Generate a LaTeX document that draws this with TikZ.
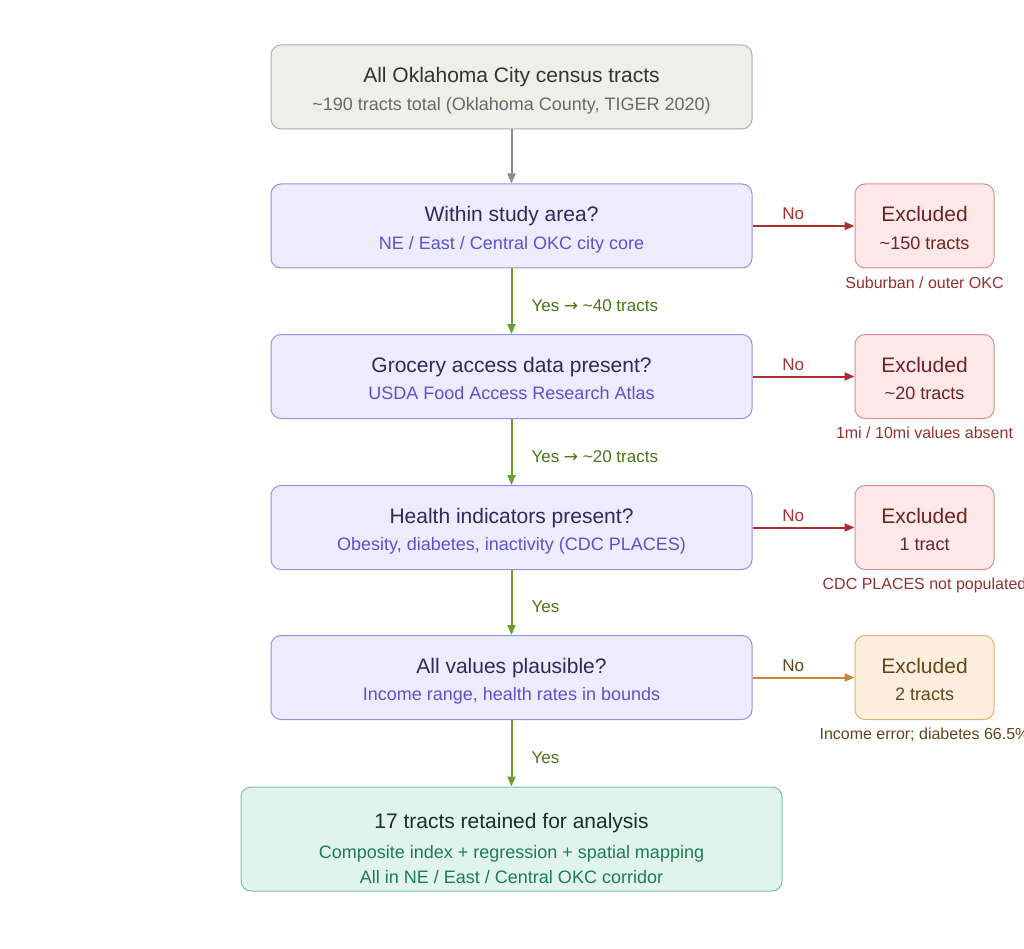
\documentclass[tikz,border=0pt]{standalone}
\usepackage{fontspec}
\setmainfont{Liberation Sans}
\newfontfamily\arrfont{DejaVu Sans}
\usetikzlibrary{arrows.meta}
\definecolor{topfill}{RGB}{240,238,231}
\definecolor{topdraw}{RGB}{178,174,162}
\definecolor{toptitle}{RGB}{51,51,51}
\definecolor{topsub}{RGB}{105,105,105}
\definecolor{decfill}{RGB}{236,236,252}
\definecolor{decdraw}{RGB}{152,144,228}
\definecolor{dectitle}{RGB}{46,42,92}
\definecolor{decsub}{RGB}{92,82,204}
\definecolor{redfill}{RGB}{252,232,232}
\definecolor{reddraw}{RGB}{220,142,142}
\definecolor{redtext}{RGB}{110,34,34}
\definecolor{rednote}{RGB}{150,48,48}
\definecolor{redline}{RGB}{168,48,48}
\definecolor{orafill}{RGB}{252,238,220}
\definecolor{oradraw}{RGB}{226,178,112}
\definecolor{oratext}{RGB}{100,70,30}
\definecolor{oraline}{RGB}{200,135,50}
\definecolor{grnline}{RGB}{104,160,42}
\definecolor{grntext}{RGB}{72,120,22}
\definecolor{finfill}{RGB}{224,243,236}
\definecolor{findraw}{RGB}{122,196,162}
\definecolor{fintitle}{RGB}{22,50,36}
\definecolor{finsub}{RGB}{30,125,80}
\definecolor{grayline}{RGB}{140,140,140}
\begin{document}
\begin{tikzpicture}[x=1pt,y=-1pt,
  box/.style={draw, line width=1pt, rounded corners=10pt, inner sep=0pt},
  mainbox/.style={box, minimum width=481pt, minimum height=84pt},
  exbox/.style={box, minimum width=139pt, minimum height=84pt},
  txt/.style={inner sep=0pt, text height=0.72em, text depth=0pt},
  ttl/.style={txt, yshift=-3.5pt, font=\fontsize{21}{21}\selectfont},
  sub/.style={txt, yshift=-3pt, font=\fontsize{18}{18}\selectfont},
  note/.style={txt, yshift=-3pt, font=\fontsize{16}{16}\selectfont},
  lbl/.style={txt, font=\fontsize{17}{17}\selectfont},
  arr/.style={line width=2pt, -{Triangle[length=10pt,width=8pt]}},
]
\fill[white] (0,0) rectangle (1024,949);
\clip (0,0) rectangle (1024,949);
\useasboundingbox (0,0) rectangle (1024,949);

% top box
\node[mainbox, fill=topfill, draw=topdraw] (top) at (511.5,87) {};
\node[ttl, text=toptitle] (topT) at (511.5,75) {All Oklahoma City census tracts};
\node[sub, text=topsub] (topS) at (511.5,104) {\textasciitilde190 tracts total (Oklahoma County, TIGER 2020)};

% decision boxes
\node[mainbox, fill=decfill, draw=decdraw] (d1) at (511.5,226) {};
\node[ttl, text=dectitle] (d1T) at (511.5,214) {Within study area?};
\node[sub, text=decsub] (d1S) at (511.5,243) {NE / East / Central OKC city core};

\node[mainbox, fill=decfill, draw=decdraw] (d2) at (511.5,376.5) {};
\node[ttl, text=dectitle] (d2T) at (511.5,365) {Grocery access data present?};
\node[sub, text=decsub] (d2S) at (511.5,393) {USDA Food Access Research Atlas};

\node[mainbox, fill=decfill, draw=decdraw] (d3) at (511.5,527.5) {};
\node[ttl, text=dectitle] (d3T) at (511.5,516) {Health indicators present?};
\node[sub, text=decsub] (d3S) at (511.5,544) {Obesity, diabetes, inactivity (CDC PLACES)};

\node[mainbox, fill=decfill, draw=decdraw] (d4) at (511.5,677.5) {};
\node[ttl, text=dectitle] (d4T) at (511.5,666) {All values plausible?};
\node[sub, text=decsub] (d4S) at (511.5,694) {Income range, health rates in bounds};

% excluded boxes
\node[exbox, fill=redfill, draw=reddraw] (e1) at (924.5,226) {};
\node[ttl, text=redtext] (e1T) at (924.5,214) {Excluded};
\node[sub, text=redtext] (e1S) at (924.5,243) {\textasciitilde150 tracts};
\node[note, text=rednote] (e1N) at (924.5,282) {Suburban / outer OKC};

\node[exbox, fill=redfill, draw=reddraw] (e2) at (924.5,376.5) {};
\node[ttl, text=redtext] (e2T) at (924.5,365) {Excluded};
\node[sub, text=redtext] (e2S) at (924.5,393) {\textasciitilde20 tracts};
\node[note, text=rednote] (e2N) at (924.5,432) {1mi / 10mi values absent};

\node[exbox, fill=redfill, draw=reddraw] (e3) at (924.5,527.5) {};
\node[ttl, text=redtext] (e3T) at (924.5,516) {Excluded};
\node[sub, text=redtext] (e3S) at (924.5,544) {1 tract};
\node[note, text=rednote] (e3N) at (924.5,583) {CDC PLACES not populated};

\node[exbox, fill=orafill, draw=oradraw] (e4) at (924.5,677.5) {};
\node[ttl, text=oratext] (e4T) at (924.5,666) {Excluded};
\node[sub, text=oratext] (e4S) at (924.5,694) {2 tracts};
\node[note, text=oratext] (e4N) at (924.5,733) {Income error; diabetes 66.5\%};

% final box
\node[box, fill=finfill, draw=findraw, minimum width=541pt, minimum height=104pt] (fin) at (511.5,839) {};
\node[ttl, text=fintitle] (finT) at (511.5,821) {17 tracts retained for analysis};
\node[sub, text=finsub] (finS1) at (511.5,852) {Composite index + regression + spatial mapping};
\node[sub, text=finsub] (finS2) at (511.5,877) {All in NE / East / Central OKC corridor};

% vertical arrows
\draw[arr, grayline] (top.south) -- (d1.north);
\draw[arr, grnline] (d1.south) -- node[lbl, text=grntext, anchor=west, xshift=19pt, yshift=-3.5pt, pos=0.55] (y1) {Yes {\arrfont→} \textasciitilde40 tracts} (d2.north);
\draw[arr, grnline] (d2.south) -- node[lbl, text=grntext, anchor=west, xshift=19pt, yshift=-3.5pt, pos=0.55] (y2) {Yes {\arrfont→} \textasciitilde20 tracts} (d3.north);
\draw[arr, grnline] (d3.south) -- node[lbl, text=grntext, anchor=west, xshift=19pt, yshift=-3.5pt, pos=0.55] (y3) {Yes} (d4.north);
\draw[arr, grnline] (d4.south) -- node[lbl, text=grntext, anchor=west, xshift=19pt, yshift=-3.5pt, pos=0.55] (y4) {Yes} (fin.north);

% horizontal arrows
\draw[arr, redline] (d1.east) -- node[lbl, text=redline, above=5pt, pos=0.4] (n1) {No} (e1.west);
\draw[arr, redline] (d2.east) -- node[lbl, text=redline, above=5pt, pos=0.4] (n2) {No} (e2.west);
\draw[arr, redline] (d3.east) -- node[lbl, text=redline, above=5pt, pos=0.4] (n3) {No} (e3.west);
\draw[arr, oraline] (d4.east) -- node[lbl, text=oratext, above=5pt, pos=0.4] (n4) {No} (e4.west);
\end{tikzpicture}
\end{document}
